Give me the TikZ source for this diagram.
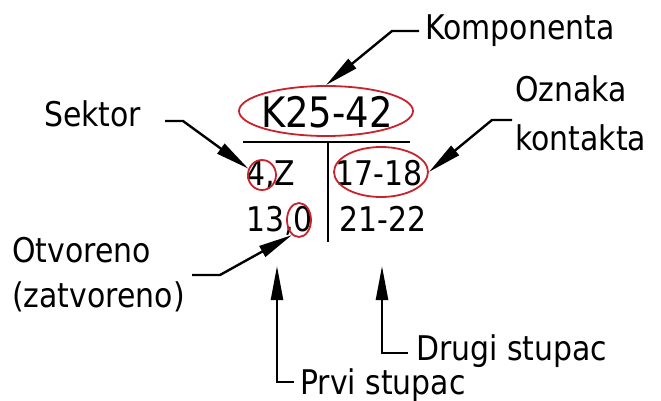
\documentclass[tikz,border=0pt]{standalone}
\usepackage{fontspec}
\setmainfont[FakeStretch=0.88]{DejaVu Sans}
\usetikzlibrary{arrows.meta,shapes.geometric}
\definecolor{ovred}{RGB}{200,35,45}
\begin{document}
\begin{tikzpicture}[x=1pt,y=-1pt,
  lbl/.style={inner sep=0pt,anchor=base west,font=\fontsize{34}{40}\selectfont},
  cell/.style={inner sep=0pt,anchor=base west,font=\fontsize{34}{40}\selectfont},
  title/.style={inner sep=0pt,anchor=base,font=\fontsize{42}{48}\selectfont},
  redell/.style={draw=ovred,line width=1.8pt,ellipse,inner sep=0pt},
  rule/.style={line width=2.2pt},
  leader/.style={line width=2.4pt,-{Triangle[length=34pt,width=12pt]}}]
\useasboundingbox (0,0) rectangle (661,401);
\fill[white] (0,0) rectangle (661,401);
% table
\node[title] (ttl) at (327,128) {K25-42};
\draw[rule] (243,142) coordinate (hl) -- (410,142) coordinate (hr);
\draw[rule] (328,142) coordinate (vt) -- (328,242) coordinate (vb);
\node[cell] (a1) at (246,185) {4,Z};
\node[cell] (a2) at (246,231) {13,0};
\node[cell] (b1) at (335,185) {17-18};
\node[cell] (b2) at (339,231) {21-22};
% red marks
\node[redell,minimum width=174pt,minimum height=50pt] (eK) at (326,111) {};
\node[redell,minimum width=28pt,minimum height=30pt] (e4) at (262,175) {};
\node[redell,minimum width=24pt,minimum height=34pt] (e0) at (299,220) {};
\node[redell,minimum width=94pt,minimum height=50pt] (e17) at (381,172) {};
% labels
\node[lbl] (komp) at (425,40) {Komponenta};
\node[lbl] (sek) at (44,127) {Sektor};
\node[lbl] (ozn) at (515,102) {Oznaka};
\node[lbl] (kon) at (515,150) {kontakta};
\node[lbl] (otv) at (12,262) {Otvoreno};
\node[lbl] (zat) at (12,307) {(zatvoreno)};
\node[lbl] (dru) at (416,360) {Drugi stupac};
\node[lbl] (prv) at (300,394) {Prvi stupac};
% leader points
\coordinate (k0) at (419,31);
\coordinate (k1) at (392,31);
\coordinate (s0) at (165,121);
\coordinate (s1) at (183,121);
\coordinate (o0) at (512,120);
\coordinate (o1) at (492,120);
\coordinate (z0) at (192,275);
\coordinate (z1) at (220,275);
\coordinate (p0) at (294,382);
\coordinate (p1) at (277,382);
\coordinate (pt) at (277,266);
\coordinate (d0) at (408,353);
\coordinate (d1) at (382,353);
\coordinate (dt) at (382,266);
% leaders
\draw[leader] (k0) -- (k1) -- (eK.north);
\draw[leader] (s0) -- (s1) -- (e4.155);
\draw[leader] (o0) -- (o1) -- (e17.east);
\draw[leader] (z0) -- (z1) -- (e0.245);
\draw[leader] (p0) -- (p1) -- (pt);
\draw[leader] (d0) -- (d1) -- (dt);
\end{tikzpicture}
\end{document}
